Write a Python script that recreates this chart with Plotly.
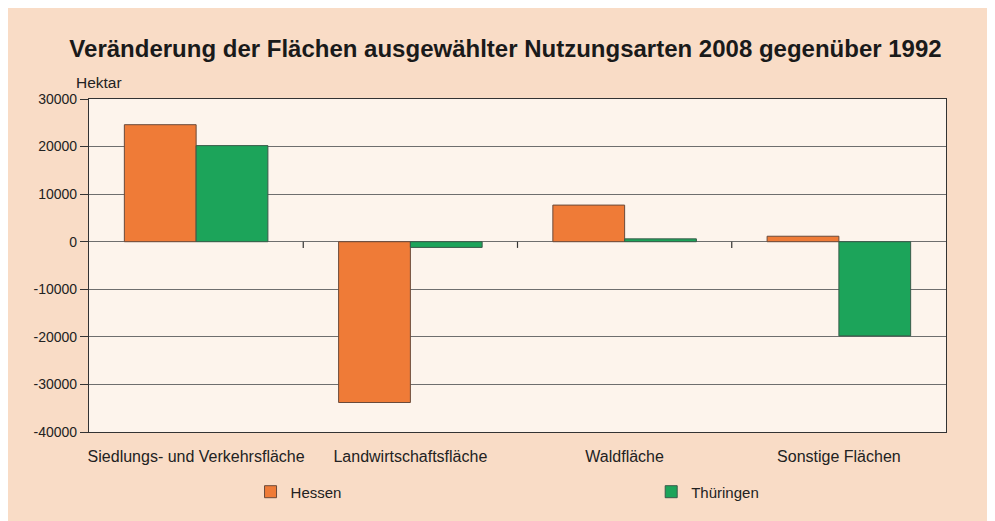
import plotly.graph_objects as go

categories = ["Siedlungs- und Verkehrsfläche", "Landwirtschaftsfläche", "Waldfläche", "Sonstige Flächen"]
hessen = [24600, -33800, 7700, 1150]
thueringen = [20200, -1200, 600, -19800]
y_ticks = [30000, 20000, 10000, 0, -10000, -20000, -30000, -40000]

font_family = "Liberation Sans, Arial, Helvetica, sans-serif"

fig = go.Figure()
fig.add_trace(go.Bar(name="Hessen", x=categories, y=hessen, legend="legend",
                     marker=dict(color="#ef7b37", line=dict(color="#6a4a3a", width=1))))
fig.add_trace(go.Bar(name="Thüringen", x=categories, y=thueringen, legend="legend2",
                     marker=dict(color="#1ca45a", line=dict(color="#3a5a4a", width=1))))

# small tick marks on the zero line between categories
for i in range(len(categories) - 1):
    fig.add_shape(type="line", xref="x", yref="y", x0=i + 0.5, x1=i + 0.5, y0=0, y1=-1300,
                  line=dict(color="#333", width=1.2))

legend_common = dict(orientation="h", yanchor="middle", y=-0.18, xanchor="left",
                     bgcolor="rgba(0,0,0,0)", font=dict(size=15, color="#222"))

fig.update_layout(
    width=995, height=521,
    margin=dict(l=81, r=57, t=91, b=97, autoexpand=False),
    paper_bgcolor="#f9dcc6",
    plot_bgcolor="#fdf4ec",
    barmode="group",
    bargap=0.33, bargroupgap=0,
    title=dict(text="<b>Veränderung der Flächen ausgewählter Nutzungsarten 2008 gegenüber 1992</b>",
               x=0.5, xanchor="center", y=0.923, yanchor="middle",
               font=dict(family=font_family, size=24, color="#1a1a1a")),
    font=dict(family=font_family, size=14, color="#222"),
    showlegend=True,
    legend=dict(x=0.1885, **legend_common),
    legend2=dict(x=0.656, **legend_common),
    annotations=[dict(text="Hektar", xref="paper", yref="paper", x=-0.017, y=1.0, xanchor="left",
                      yanchor="bottom", yshift=6, showarrow=False, font=dict(size=15.5, color="#222"))],
)
fig.update_xaxes(showline=True, linecolor="#333", linewidth=1.2, mirror=True,
                 ticks="", tickfont=dict(size=16), ticklabelstandoff=10, showgrid=False)
fig.update_yaxes(range=[-40000, 30000], tickvals=y_ticks, ticktext=[str(v) for v in y_ticks],
                 showline=True, linecolor="#333", linewidth=1.2, mirror=True,
                 ticks="outside", ticklen=8, tickcolor="#333",
                 showgrid=True, gridcolor="#6e6e6e", gridwidth=1, zeroline=False,
                 tickfont=dict(size=14))

fig.write_html("out.html")
